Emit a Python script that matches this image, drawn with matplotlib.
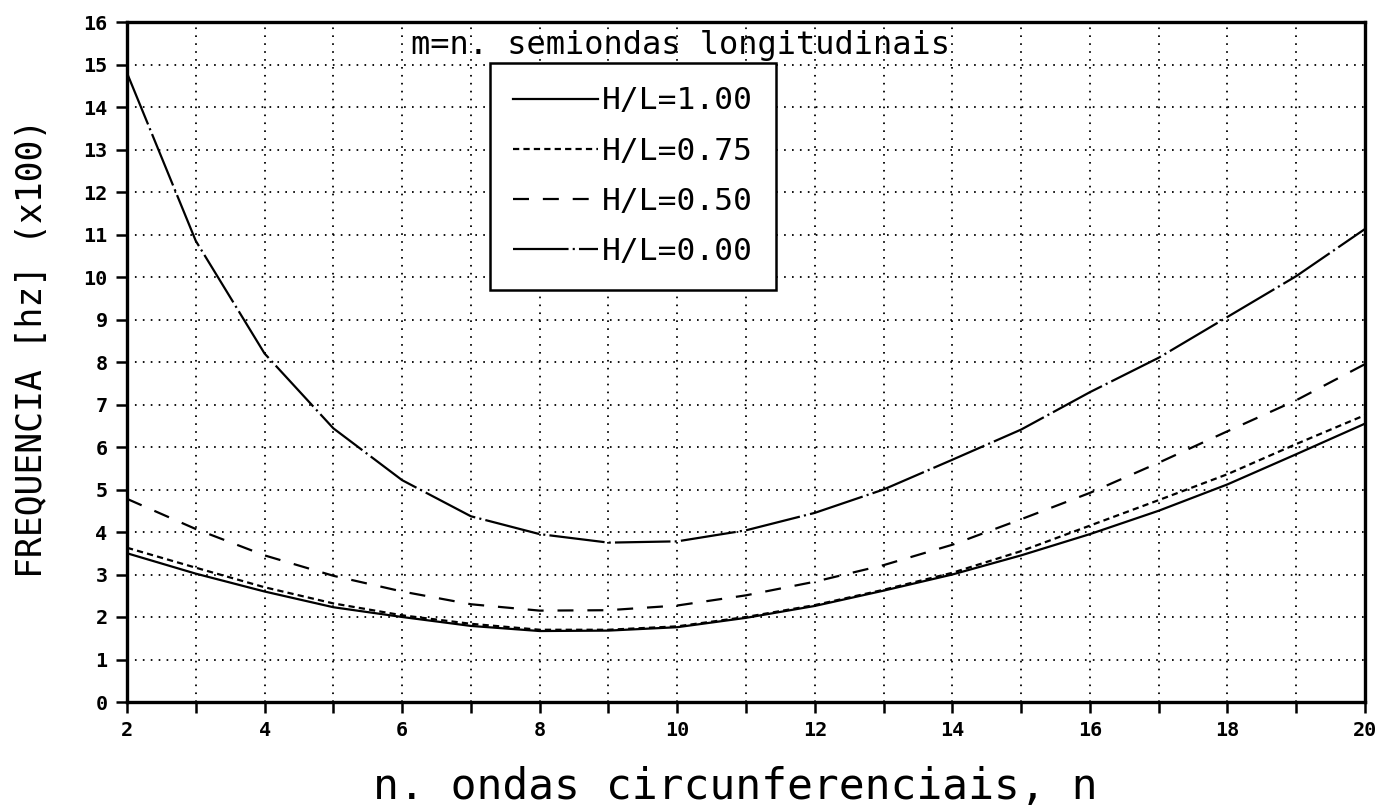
import matplotlib
matplotlib.use("Agg")
import matplotlib.pyplot as plt

n = [2, 3, 4, 5, 6, 7, 8, 9, 10, 11, 12, 13, 14, 15, 16, 17, 18, 19, 20]
hl_100 = [3.50, 3.02, 2.60, 2.23, 2.00, 1.79, 1.67, 1.68, 1.76, 1.98, 2.26, 2.62, 3.00, 3.45, 3.95, 4.50, 5.12, 5.83, 6.55]
hl_075 = [3.63, 3.16, 2.70, 2.32, 2.04, 1.84, 1.70, 1.70, 1.78, 2.00, 2.28, 2.64, 3.04, 3.55, 4.15, 4.75, 5.36, 6.07, 6.75]
hl_050 = [4.78, 4.07, 3.45, 2.97, 2.60, 2.30, 2.15, 2.16, 2.27, 2.51, 2.83, 3.22, 3.70, 4.30, 4.92, 5.63, 6.37, 7.10, 7.95]
hl_000 = [14.80, 10.85, 8.20, 6.44, 5.22, 4.37, 3.95, 3.75, 3.78, 4.04, 4.45, 5.00, 5.70, 6.41, 7.29, 8.10, 9.06, 10.02, 11.13]
labels = ["H/L=1.00", "H/L=0.75", "H/L=0.50", "H/L=0.00"]
yticks = list(range(0, 17))
xticks = list(range(2, 21))

plt.rcParams['lines.scale_dashes'] = False
mono = 'DejaVu Sans Mono'

fig = plt.figure(figsize=(13.85, 8.1), dpi=100)
ax = fig.add_axes([127/1385, 1-702/810, (1365-127)/1385, (702-22)/810])

styles = ['-', (0, (4.5, 3.0)), (0, (11.5, 10.0)), (0, (40, 3, 1.5, 3))]
for vals, ls, lab in zip([hl_100, hl_075, hl_050, hl_000], styles, labels):
    ax.plot(n, vals, color='black', lw=1.6, linestyle=ls, label=lab)

ax.set_xlim(2, 20)
ax.set_ylim(0, 16)
ax.set_xticks(xticks)
ax.set_xticklabels([str(v) if v % 2 == 0 else '' for v in xticks])
ax.set_yticks(yticks)
ax.set_yticklabels([str(v) for v in yticks])
for lab in ax.get_xticklabels() + ax.get_yticklabels():
    lab.set_fontfamily(mono)
    lab.set_fontweight('bold')
    lab.set_fontsize(14.5)
ax.tick_params(direction='out', length=8, width=1.8, pad=6, colors='black')
ax.grid(True, color='black', linestyle=(0, (1.2, 4.5)), lw=1.3)
for sp in ax.spines.values():
    sp.set_linewidth(2.4)
    sp.set_color('black')

ax.set_xlabel("n. ondas circunferenciais, n", fontfamily=mono, fontsize=31)
ax.set_ylabel("FREQUENCIA [hz] (x100)", fontfamily=mono, fontsize=25)
ax.xaxis.set_label_coords((735-127)/1238, (702-787)/680)
ax.xaxis.label.set_verticalalignment('center')
ax.yaxis.set_label_coords((32-127)/1238, (702-348)/680)
ax.yaxis.label.set_verticalalignment('center')

ax.text(0.229, 0.966, "m=n. semiondas longitudinais", transform=ax.transAxes,
        fontfamily=mono, fontsize=23, va='center', ha='left')

leg = ax.legend(loc='upper left', bbox_to_anchor=((490-127)/1238, (702-63)/680),
                prop={'family': mono, 'size': 22.5}, frameon=True, fancybox=False,
                handlelength=2.7, handletextpad=0.12, borderpad=0.75, labelspacing=0.68,
                borderaxespad=0)
leg.get_frame().set_edgecolor('black')
leg.get_frame().set_linewidth(1.8)
leg.get_frame().set_alpha(1)

fig.savefig("out.png", dpi=100)
